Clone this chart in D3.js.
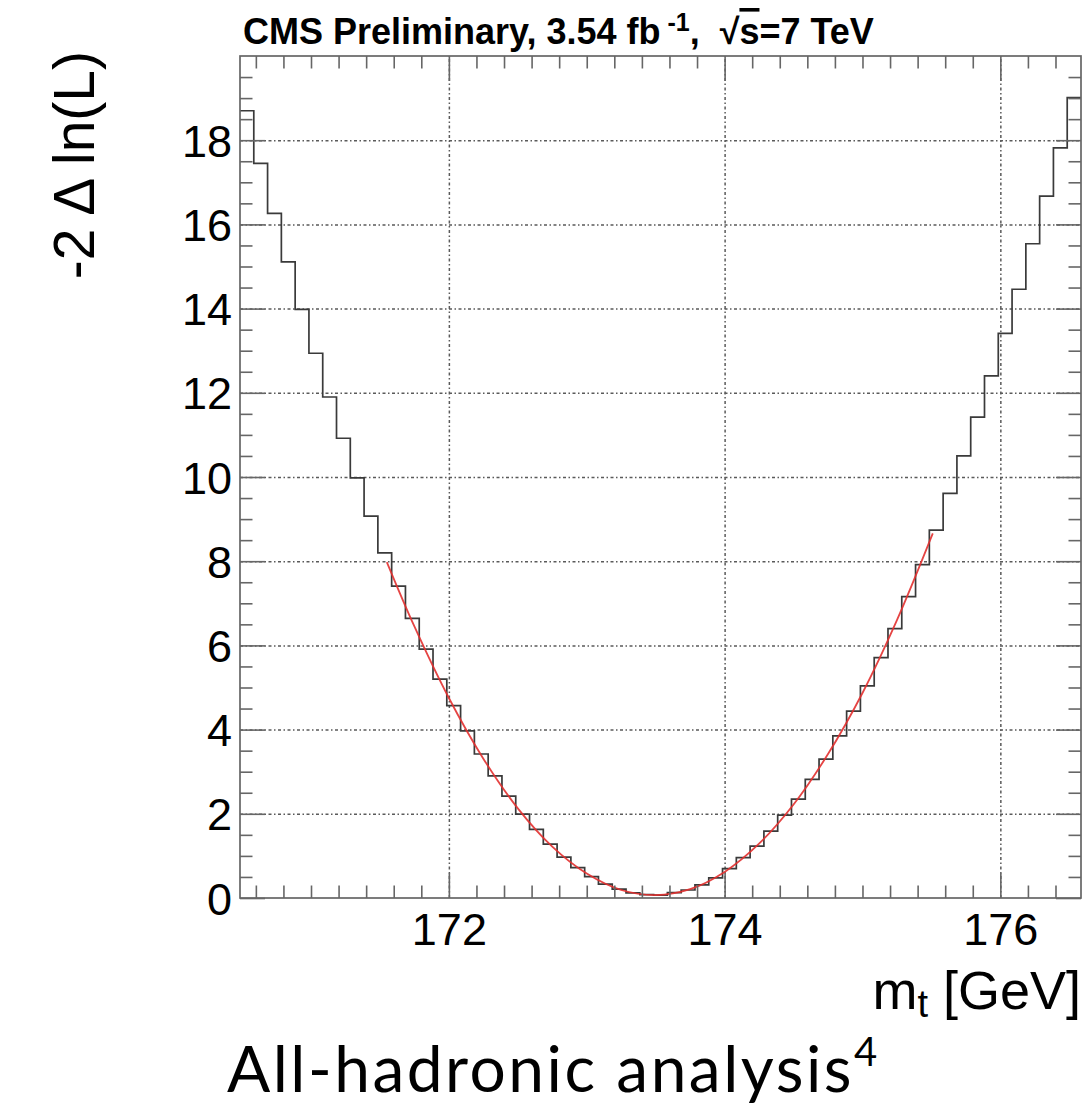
<!DOCTYPE html>
<html>
<head>
<meta charset="utf-8">
<script src="https://cdn.jsdelivr.net/npm/d3@7"></script>
<style>
  html, body { margin: 0; padding: 0; background: #fff; }
  svg { display: block; }
</style>
</head>
<body>
<svg id="chart" width="1082" height="1106"></svg>
<script>
// ---------------- data ----------------
const binStart = 170.485;      // low edge of first bin [GeV]
const binWidth = 0.1;          // bin width [GeV]
const nllValues = [
  18.70, 17.45, 16.26, 15.11, 13.98, 12.94, 11.90, 10.92, 9.98, 9.07,
  8.20, 7.41, 6.64, 5.91, 5.20, 4.57, 3.97, 3.42, 2.90, 2.42,
  1.99, 1.63, 1.28, 0.97, 0.72, 0.51, 0.33, 0.21, 0.12, 0.08,
  0.07, 0.13, 0.19, 0.31, 0.48, 0.70, 0.96, 1.23, 1.59, 1.97,
  2.35, 2.82, 3.30, 3.85, 4.44, 5.04, 5.71, 6.40, 7.16, 7.92,
  8.74, 9.61, 10.50, 11.42, 12.40, 13.41, 14.46, 15.54, 16.67, 17.82,
  19.01
];
const fitMass  = [171.55, 171.75, 172.0, 172.25, 172.5, 172.75, 173.0, 173.25, 173.5,
                  173.75, 174.0, 174.25, 174.5, 174.75, 175.0, 175.25, 175.51];
const fitValue = [7.98, 6.45, 4.75, 3.31, 2.13, 1.22, 0.58, 0.19, 0.07,
                  0.21, 0.62, 1.29, 2.22, 3.42, 4.87, 6.60, 8.66];
const xMajorTicks = [172, 174, 176];
const xMinorTicks = [170.6, 170.8, 171.0, 171.2, 171.4, 171.6, 171.8, 172.2, 172.4, 172.6, 172.8,
                     173.0, 173.2, 173.4, 173.6, 173.8, 174.2, 174.4, 174.6, 174.8, 175.0,
                     175.2, 175.4, 175.6, 175.8, 176.2, 176.4];
const yMajorTicks = [0, 2, 4, 6, 8, 10, 12, 14, 16, 18];
const yMinorTicks = [0.5, 1, 1.5, 2.5, 3, 3.5, 4.5, 5, 5.5, 6.5, 7, 7.5, 8.5, 9, 9.5, 10.5, 11, 11.5,
                     12.5, 13, 13.5, 14.5, 15, 15.5, 16.5, 17, 17.5, 18.5, 19, 19.5];
const xDomain = [170.485, 176.585];
const yDomain = [0, 20];
const titleMain = "CMS Preliminary, 3.54 fb";
const xTitle = "m";
const xTitleSub = "t";
const xTitleRest = "\u00A0[GeV]";
const yTitle = "-2 \u0394 ln(L)";
const caption = "All-hadronic analysis";

// ---------------- layout ----------------
const frame = { left: 240, right: 1081, top: 56, bottom: 898 };
const svg = d3.select("#chart");
const x = d3.scaleLinear().domain(xDomain).range([frame.left, frame.right]);
const y = d3.scaleLinear().domain(yDomain).range([frame.bottom, frame.top]);
const W = frame.right - frame.left, H = frame.bottom - frame.top;
const axisColor = "#666";

// grid
const gridStyle = g => {
  g.select(".domain").remove();
  g.selectAll(".tick text").remove();
  g.selectAll(".tick line").attr("stroke", "#5a5a5a").attr("stroke-width", 1.5)
    .attr("stroke-dasharray", "3,2.5,1.5,2.5");
};
svg.append("g").attr("transform", `translate(0,${frame.bottom})`)
  .call(d3.axisBottom(x).tickValues(xMajorTicks).tickSize(-H)).call(gridStyle);
svg.append("g").attr("transform", `translate(${frame.left},0)`)
  .call(d3.axisLeft(y).tickValues(yMajorTicks.filter(v => v > 0)).tickSize(-W)).call(gridStyle);

// histogram
const edges = nllValues.map((v, i) => [binStart + i * binWidth, v]);
edges.push([binStart + nllValues.length * binWidth, nllValues[nllValues.length - 1]]);
const histLine = d3.line().x(d => x(d[0])).y(d => y(d[1])).curve(d3.curveStepAfter);
svg.append("path").datum(edges).attr("d", histLine)
  .attr("fill", "none").attr("stroke", "#3a3a3a").attr("stroke-width", 1.7);

// fit
const fitPts = fitMass.map((m, i) => [m, fitValue[i]]);
const fitLine = d3.line().x(d => x(d[0])).y(d => y(d[1])).curve(d3.curveCatmullRom);
svg.append("path").datum(fitPts).attr("d", fitLine)
  .attr("fill", "none").attr("stroke", "#e2302f").attr("stroke-width", 1.8).attr("stroke-opacity", 0.9);

// frame
svg.append("rect").attr("x", frame.left).attr("y", frame.top).attr("width", W).attr("height", H)
  .attr("fill", "none").attr("stroke", axisColor).attr("stroke-width", 1.7);

// ticks (ROOT style, inward on all four sides)
const tickStyle = g => {
  g.select(".domain").remove();
  g.selectAll(".tick text").remove();
  g.selectAll(".tick line").attr("stroke", axisColor).attr("stroke-width", 1.6);
};
[[xMajorTicks, 25], [xMinorTicks, 12.5]].forEach(([vals, len]) => {
  svg.append("g").attr("transform", `translate(0,${frame.bottom})`)
    .call(d3.axisBottom(x).tickValues(vals).tickSize(-len)).call(tickStyle);
  svg.append("g").attr("transform", `translate(0,${frame.top})`)
    .call(d3.axisTop(x).tickValues(vals).tickSize(-len)).call(tickStyle);
});
[[yMajorTicks, 25], [yMinorTicks, 12.5]].forEach(([vals, len]) => {
  svg.append("g").attr("transform", `translate(${frame.left},0)`)
    .call(d3.axisLeft(y).tickValues(vals).tickSize(-len)).call(tickStyle);
  svg.append("g").attr("transform", `translate(${frame.right},0)`)
    .call(d3.axisRight(y).tickValues(vals).tickSize(-len)).call(tickStyle);
});

// tick labels
const labelFont = "'Liberation Sans', Arial, sans-serif";
const xl = svg.append("g").attr("transform", `translate(0,${frame.bottom})`)
  .call(d3.axisBottom(x).tickValues(xMajorTicks).tickSize(0).tickPadding(0).tickFormat(d3.format("d")));
xl.select(".domain").remove();
xl.selectAll(".tick text").attr("dy", null).attr("y", 47)
  .attr("font-family", labelFont).attr("font-size", 45).attr("fill", "#000");
const yl = svg.append("g").attr("transform", `translate(${frame.left},0)`)
  .call(d3.axisLeft(y).tickValues(yMajorTicks).tickSize(0).tickPadding(0).tickFormat(d3.format("d")));
yl.select(".domain").remove();
yl.selectAll(".tick text").attr("dy", null).attr("x", -8).attr("y", 16)
  .attr("font-family", labelFont).attr("font-size", 45).attr("fill", "#000");

// axis titles
const xt = svg.append("text").attr("x", 1081).attr("y", 1009).attr("text-anchor", "end")
  .attr("font-family", labelFont).attr("font-size", 54).attr("fill", "#000");
xt.append("tspan").text(xTitle);
xt.append("tspan").attr("font-size", 38).attr("dy", 8).text(xTitleSub);
xt.append("tspan").attr("dy", -8).text(xTitleRest);

svg.append("text").attr("transform", "translate(94,51) rotate(-90)")
  .attr("text-anchor", "end").attr("font-family", labelFont).attr("font-size", 57)
  .attr("fill", "#000").text(yTitle);

// plot title
const tt = svg.append("text").attr("x", 243).attr("y", 44)
  .attr("font-family", labelFont).attr("font-weight", "bold").attr("font-size", 36).attr("fill", "#000");
tt.append("tspan").text(titleMain);
tt.append("tspan").attr("font-size", 25).attr("dy", -13).text("\u00A0-1");
tt.append("tspan").attr("dy", 13).text(",\u00A0\u00A0\u221A");
tt.append("tspan").style("text-decoration", "overline").text("s");
tt.append("tspan").text("=7 TeV");

// caption
const cap = svg.append("text").attr("x", 227).attr("y", 1092)
  .attr("font-family", "Lato, 'Open Sans', sans-serif").attr("font-size", 64)
  .attr("letter-spacing", 2.5).attr("fill", "#000");
cap.append("tspan").text(caption);
cap.append("tspan").attr("font-size", 40).attr("dy", -26).text("4");
</script>
</body>
</html>
